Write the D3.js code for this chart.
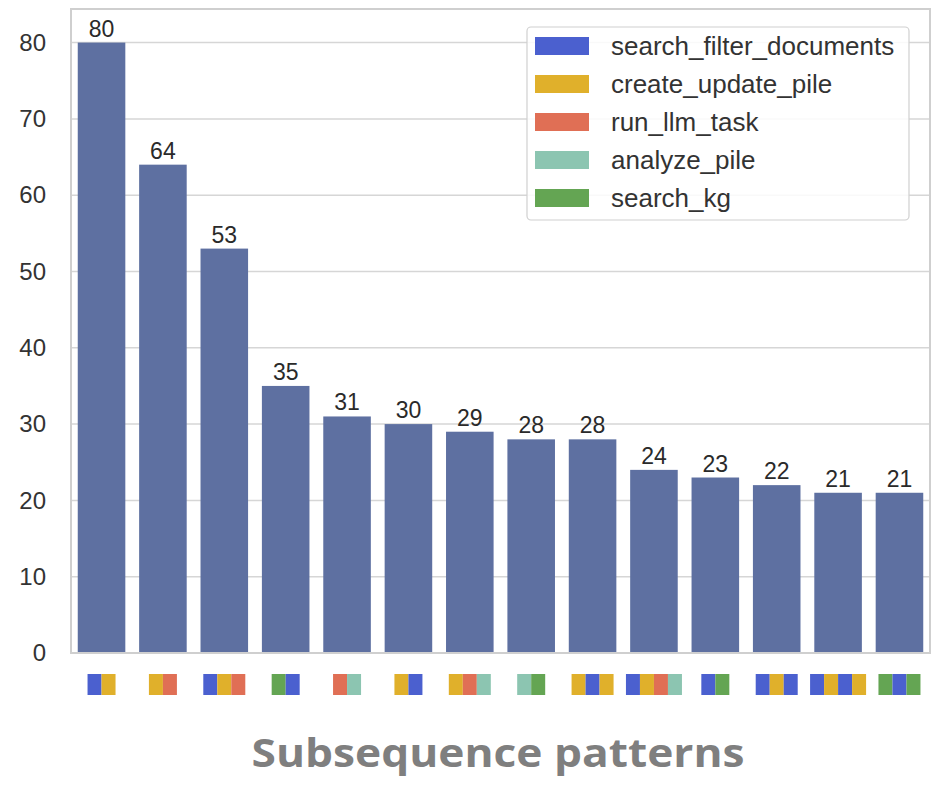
<!DOCTYPE html>
<html><head><meta charset="utf-8">
<script src="https://cdn.jsdelivr.net/npm/d3@7"></script>
<style>body{margin:0;background:#fff}</style>
</head><body>
<svg id="chart" width="935" height="793"></svg>
<script>
const actions = ["search_filter_documents","create_update_pile","run_llm_task","analyze_pile","search_kg"];
const actionColors = ["#4b60cf","#e0b02b","#e06f55","#8cc5b1","#64a553"];
const patterns = [
  ["search_filter_documents","create_update_pile"],
  ["create_update_pile","run_llm_task"],
  ["search_filter_documents","create_update_pile","run_llm_task"],
  ["search_kg","search_filter_documents"],
  ["run_llm_task","analyze_pile"],
  ["create_update_pile","search_filter_documents"],
  ["create_update_pile","run_llm_task","analyze_pile"],
  ["analyze_pile","search_kg"],
  ["create_update_pile","search_filter_documents","create_update_pile"],
  ["search_filter_documents","create_update_pile","run_llm_task","analyze_pile"],
  ["search_filter_documents","search_kg"],
  ["search_filter_documents","create_update_pile","search_filter_documents"],
  ["search_filter_documents","create_update_pile","search_filter_documents","create_update_pile"],
  ["search_kg","search_filter_documents","search_kg"]
];
const counts = [80,64,53,35,31,30,29,28,28,24,23,22,21,21];
const yTicks = [0,10,20,30,40,50,60,70,80];
const xTitle = "Subsequence patterns";

(function(){
const svg = d3.select("#chart");
const pl = 71, pr = 930, pt = 9, pb = 653;
const x = d3.scaleBand().domain(d3.range(counts.length)).range([pl,pr]).paddingInner(0.225).paddingOuter(0.11);
const y = d3.scaleLinear().domain([0, 84.4]).range([pb, pt]);
const color = d3.scaleOrdinal().domain(actions).range(actionColors);

// grid
svg.append("g").selectAll("line").data(yTicks).join("line")
  .attr("x1", pl).attr("x2", pr)
  .attr("y1", d=>y(d)).attr("y2", d=>y(d))
  .attr("stroke","#d6d6d6").attr("stroke-width",1.5);

// y axis labels
const yAxis = d3.axisLeft(y).tickValues(yTicks).tickSize(0).tickPadding(25);
const gy = svg.append("g").attr("transform",`translate(${pl},0)`).call(yAxis);
gy.select(".domain").remove();
gy.selectAll("text").attr("font-family","Liberation Sans, Arial, sans-serif").attr("font-size",24).attr("fill","#333");

// bars
svg.append("g").selectAll("rect").data(counts).join("rect")
  .attr("x",(d,i)=>x(i)).attr("width",x.bandwidth())
  .attr("y",d=>y(d)).attr("height",d=>pb-y(d))
  .attr("fill","#5e70a1");

// value labels
svg.append("g").selectAll("text").data(counts).join("text")
  .attr("x",(d,i)=>x(i)+x.bandwidth()/2).attr("y",d=>y(d)-6)
  .attr("text-anchor","middle").attr("font-family","Liberation Sans, Arial, sans-serif")
  .attr("font-size",23).attr("fill","#2a2a2a").text(d=>d);

// frame
svg.append("rect").attr("x",pl).attr("y",pt).attr("width",pr-pl).attr("height",pb-pt)
  .attr("fill","none").attr("stroke","#cfcfcf").attr("stroke-width",2);

// pattern glyphs
const seg = 14, segH = 21, gy0 = 674;
patterns.forEach((p,i)=>{
  const cx = x(i)+x.bandwidth()/2;
  const w = p.length*seg;
  svg.append("g").selectAll("rect").data(p).join("rect")
    .attr("x",(d,j)=>cx - w/2 + j*seg).attr("y",gy0)
    .attr("width",seg).attr("height",segH).attr("fill",d=>color(d));
});

// x title
svg.append("text").attr("x",498).attr("y",767).attr("text-anchor","middle")
  .attr("font-family","Open Sans, Noto Sans, sans-serif").attr("font-weight","bold")
  .attr("font-size",40).attr("textLength",493).attr("lengthAdjust","spacingAndGlyphs")
  .attr("fill","#7f7f7f").text(xTitle);

// legend
const lg = svg.append("g");
lg.append("rect").attr("x",527).attr("y",27).attr("width",382).attr("height",193).attr("rx",4)
  .attr("fill","#fff").attr("fill-opacity",0.85).attr("stroke","#d0d0d0").attr("stroke-width",1.2);
actions.forEach((a,i)=>{
  const yy = 46 + i*38;
  lg.append("rect").attr("x",535).attr("y",yy-9).attr("width",54).attr("height",18).attr("fill",color(a));
  lg.append("text").attr("x",611).attr("y",yy+9).attr("font-family","Liberation Sans, Arial, sans-serif")
    .attr("font-size",26).attr("fill","#333").text(a);
});
})();
</script>
</body></html>
